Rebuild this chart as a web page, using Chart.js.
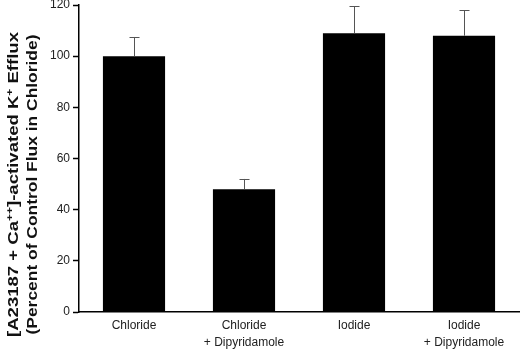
<!DOCTYPE html>
<html>
<head>
<meta charset="utf-8">
<script src="https://cdn.jsdelivr.net/npm/chart.js@4"></script>
<style>
  html, body { margin: 0; padding: 0; background: #fff; }
  #wrap { width: 520px; height: 350px; }
</style>
</head>
<body>
<div id="wrap"><canvas id="grafico"></canvas></div>
<script>
/* ===================== DATOS ===================== */
const categorias = [
  ["Chloride"],
  ["Chloride", "+ Dipyridamole"],
  ["Iodide"],
  ["Iodide", "+ Dipyridamole"],
];
const valores = [100, 48, 109, 108];
const errores = [7.5, 4, 10.5, 10];
const ticksY = [0, 20, 40, 60, 80, 100, 120];

const FUENTE = "'Liberation Sans', Arial, sans-serif";

/* ===================== BARRAS DE ERROR ===================== */
const barrasError = {
  id: "barrasError",
  afterDatasetsDraw(chart) {
    const ctx = chart.ctx;
    const y = chart.scales.y;
    const meta = chart.getDatasetMeta(0);
    ctx.save();
    ctx.strokeStyle = "#555";
    ctx.lineWidth = 1;
    meta.data.forEach((bar, i) => {
      const x = Math.round(bar.x) + 0.5;
      const yTop = y.getPixelForValue(valores[i] + errores[i]);
      ctx.beginPath();
      ctx.moveTo(x, bar.y);
      ctx.lineTo(x, yTop);
      ctx.moveTo(x - 5, Math.round(yTop) + 0.5);
      ctx.lineTo(x + 5, Math.round(yTop) + 0.5);
      ctx.stroke();
    });
    ctx.restore();
  },
};

/* ===================== TITULO Y (con superindices) ===================== */
const tituloY = {
  id: "tituloY",
  afterDraw(chart) {
    const ctx = chart.ctx;
    const area = chart.chartArea;
    const cy = (area.top + area.bottom) / 2 + 26;
    const normal = "bold 14px " + FUENTE;
    const sup = "bold 9px " + FUENTE;
    const linea1 = [
      ["[A23187 + Ca", normal, 0],
      ["++", sup, -5],
      ["]-activated K", normal, 0],
      ["+", sup, -5],
      [" Efflux", normal, 0],
    ];
    const linea2 = "(Percent of Control Flux in Chloride)";
    ctx.save();
    ctx.fillStyle = "#111";
    ctx.textBaseline = "alphabetic";
    ctx.translate(0, cy);
    ctx.rotate(-Math.PI / 2);
    // linea 1 (el original esta estirado a lo largo)
    let total = 0;
    linea1.forEach(([t, f]) => { ctx.font = f; total += ctx.measureText(t).width; });
    ctx.save();
    ctx.scale(305 / total, 1);
    let x = -total / 2;
    linea1.forEach(([t, f, dy]) => {
      ctx.font = f;
      ctx.fillText(t, x, 18 + dy);
      x += ctx.measureText(t).width;
    });
    ctx.restore();
    // linea 2
    ctx.font = normal;
    ctx.textAlign = "center";
    const w2 = ctx.measureText(linea2).width;
    ctx.scale(300 / w2, 1);
    ctx.fillText(linea2, 0, 37);
    ctx.restore();
  },
};

/* ===================== GRAFICO ===================== */
new Chart(document.getElementById("grafico"), {
  type: "bar",
  data: {
    labels: categorias,
    datasets: [
      {
        data: valores,
        backgroundColor: "#000",
        borderWidth: 0,
        barPercentage: 0.565,
        categoryPercentage: 1,
      },
    ],
  },
  plugins: [barrasError, tituloY],
  options: {
    responsive: true,
    maintainAspectRatio: false,
    animation: false,
    layout: { padding: { top: 5, right: 1, left: 0, bottom: 0 } },
    plugins: {
      legend: { display: false },
      tooltip: { enabled: false },
    },
    scales: {
      x: {
        grid: { display: false, drawTicks: false },
        border: { display: true, color: "#000", width: 1.5 },
        ticks: {
          color: "#222",
          font: { family: FUENTE, size: 12, lineHeight: 1.4 },
          padding: 5,
          maxRotation: 0,
          autoSkip: false,
        },
        afterFit: (s) => { s.height = 38; },
      },
      y: {
        min: 0,
        max: 120,
        afterBuildTicks: (s) => { s.ticks = ticksY.map((v) => ({ value: v })); },
        grid: {
          drawOnChartArea: false,
          drawTicks: true,
          tickLength: 6,
          color: "#000",
          tickWidth: 1.5,
        },
        border: { display: true, color: "#000", width: 1.5 },
        ticks: {
          color: "#222",
          font: { family: FUENTE, size: 12 },
          padding: 3,
        },
        afterFit: (s) => {
          s.width = 79;
          s.paddingTop = 0;
        },
      },
    },
  },
});
</script>
</body>
</html>
